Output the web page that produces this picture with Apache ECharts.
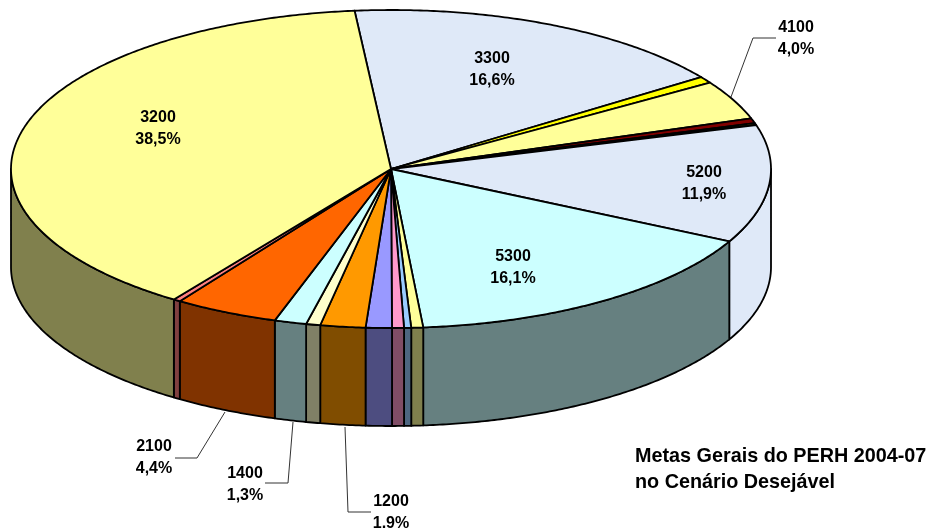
<!DOCTYPE html>
<html>
<head>
<meta charset="utf-8">
<style>html,body{margin:0;background:#fff}#main{width:928px;height:528px}</style>
<script src="https://cdn.jsdelivr.net/npm/echarts@6/dist/echarts.min.js"></script>
</head>
<body>
<div id="main"></div>
<script>
// clockwise from the 3300 slice
var categories = ['3300', 's1', '4100', 's2', 's3', '5200', '5300', 's4', 's5', 's6', 's7', '1200', 's8', '1400', '2100', 's9', '3200'];
var values = [16.6, 0.65, 3.95, 0.5, 0.2, 11.9, 16.0, 0.5, 0.3, 0.5, 1.1, 1.9, 0.6, 1.35, 4.4, 0.3, 38.5];
var percentLabels = ['16,6%', '', '4,0%', '', '', '11,9%', '16,1%', '', '', '', '', '1,9%', '', '1,3%', '4,4%', '', '38,5%'];
var topColors = ['#dfe9f8', '#ffff00', '#ffff99', '#800000', '#ffff00', '#dfe9f8', '#ccffff', '#ffff99', '#99ccff', '#ff99cc', '#9999ff', '#ff9900', '#ffffcc', '#ccffff', '#ff6600', '#ff8080', '#ffff99'];
var wallColors = ['#dfe9f8', '#808000', '#80804d', '#400000', '#808000', '#dfe9f8', '#668080', '#80804d', '#4d6680', '#804d66', '#4d4d80', '#804d00', '#808066', '#668080', '#803300', '#804040', '#80804d'];

var cx = 391, cy = 169, rx = 380, ry = 159, depth = 98;
var startAngle = -5.5;

var total = values.reduce(function (a, b) { return a + b; }, 0);
var rows = [];
var cum = 0;
values.forEach(function (v, i) {
    rows.push([cum, cum + v, i]);
    cum += v;
});

function toAngle(v) {
    return echarts.number.linearMap(v, [0, total], [startAngle, startAngle + 360]);
}
function rim(deg, dy) {
    var t = deg * Math.PI / 180;
    return [cx + rx * Math.sin(t), cy - ry * Math.cos(t) + (dy || 0)];
}
function arc(a0, a1, dy) {
    var pts = [];
    var n = Math.max(2, Math.ceil((a1 - a0) * 2));
    for (var i = 0; i <= n; i++) {
        pts.push(rim(a0 + (a1 - a0) * i / n, dy));
    }
    return pts;
}

function renderWall(params, api) {
    var a0 = toAngle(api.value(0));
    var a1 = toAngle(api.value(1));
    var i = api.value(2);
    // only the front half of the cylinder shows
    var from = Math.max(a0, 90), to = Math.min(a1, 270);
    if (from >= to) return null;
    var pts = arc(from, to, 0).concat(arc(from, to, depth).reverse());
    return {
        type: 'polygon',
        shape: { points: pts },
        style: { fill: wallColors[i], stroke: '#000', lineWidth: 1.8, lineJoin: 'round' }
    };
}

function renderTop(params, api) {
    var a0 = toAngle(api.value(0));
    var a1 = toAngle(api.value(1));
    var i = api.value(2);
    var pts = [[cx, cy]].concat(arc(a0, a1, 0));
    return {
        type: 'polygon',
        shape: { points: pts },
        style: { fill: topColors[i], stroke: '#000', lineWidth: 1.8, lineJoin: 'round' }
    };
}

var font = 'bold 16px "Liberation Sans", Arial, sans-serif';
function sliceLabel(name, x, y) {
    var i = categories.indexOf(name);
    return {
        type: 'text',
        x: x, y: y, z: 100,
        style: { text: name + '\n' + percentLabels[i], font: font, fill: '#000', align: 'center', verticalAlign: 'middle', lineHeight: 22 }
    };
}
function leader(points) {
    return {
        type: 'polyline',
        z: 100,
        shape: { points: points },
        style: { stroke: '#333', lineWidth: 1, fill: null }
    };
}

var option = {
    animation: false,
    backgroundColor: '#fff',
    series: [
        { type: 'custom', coordinateSystem: 'none', renderItem: renderWall, data: rows, silent: true, z: 2 },
        { type: 'custom', coordinateSystem: 'none', renderItem: renderTop, data: rows, silent: true, z: 3 }
    ],
    graphic: { elements: [
        sliceLabel('3300', 492, 70),
        sliceLabel('3200', 158, 129),
        sliceLabel('5200', 704, 184),
        sliceLabel('5300', 513, 268),
        sliceLabel('4100', 796, 39),
        sliceLabel('2100', 154, 458),
        sliceLabel('1400', 245, 485),
        sliceLabel('1200', 391, 513),
        leader([[731, 97], [753, 38], [776, 38]]),
        leader([[225, 412], [197, 458], [175, 458]]),
        leader([[293, 422], [288, 483], [265, 483]]),
        leader([[345, 427], [348, 512], [371, 512]]),
        {
            type: 'text',
            x: 635, y: 470, z: 100,
            style: {
                text: 'Metas Gerais do PERH 2004-07\nno Cenário Desejável',
                font: 'bold 19.8px "Liberation Sans", Arial, sans-serif',
                fill: '#000', align: 'left', verticalAlign: 'middle', lineHeight: 26
            }
        }
    ] }
};

var myChart = echarts.init(document.getElementById('main'), null, { renderer: 'canvas' });
myChart.setOption(option);
</script>
</body>
</html>
